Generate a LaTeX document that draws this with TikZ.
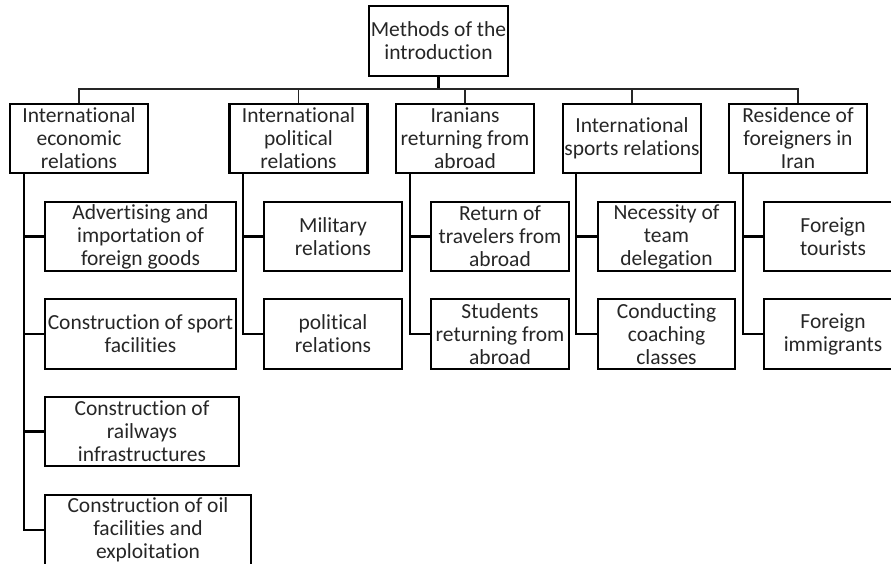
\documentclass[tikz,border=0pt]{standalone}
\usepackage{fontspec}
\setmainfont{Carlito}[Ligatures=NoCommon]
\begin{document}
\begin{tikzpicture}[x=1pt,y=-1pt,
  box/.style={draw=black,line width=2.5pt,inner sep=0pt,align=center,
    font=\fontsize{21.5}{23}\selectfont,text=black!85},
  lvl1/.style={box,minimum width=138pt,minimum height=69pt},
  lvl2/.style={box,minimum width=#1,minimum height=69pt},
  conn/.style={draw=black,line width=2.2pt},
  busline/.style={draw=black!85,line width=1.6pt}]
\useasboundingbox (0,0) rectangle (891,564);
% root
\node[box,minimum width=139pt,minimum height=70pt] (r) at (438.5,41) {Methods of the\\introduction};
% level 1
\node[lvl1] (a) at (79,138.5) {International\\economic\\relations};
\node[lvl1] (b) at (298.5,138.5) {International\\political\\relations};
\node[lvl1] (c) at (465,138.5) {Iranians\\returning from\\abroad};
\node[lvl1] (d) at (632,138.5) {International\\sports relations};
\node[lvl1] (e) at (798,138.5) {Residence of\\foreigners in\\Iran};
% level 2, column a
\node[lvl2=191pt] (a1) at (140.5,236.5) {Advertising and\\importation of\\foreign goods};
\node[lvl2=191pt,minimum height=70pt] (a2) at (140.5,334) {Construction of sport\\facilities};
\node[lvl2=194pt] (a3) at (142,431.5) {Construction of\\railways\\infrastructures};
\node[lvl2=206pt,minimum height=70pt] (a4) at (148,530) {Construction of oil\\facilities and\\exploitation};
% column b
\node[lvl2=138pt] (b1) at (333,236.5) {Military\\relations};
\node[lvl2=138pt,minimum height=70pt] (b2) at (333,334) {political\\relations};
% column c
\node[lvl2=138pt] (c1) at (500,236.5) {Return of\\travelers from\\abroad};
\node[lvl2=138pt,minimum height=70pt] (c2) at (500,334) {Students\\returning from\\abroad};
% column d
\node[lvl2=137pt] (d1) at (666.5,236.5) {Necessity of\\team\\delegation};
\node[lvl2=137pt,minimum height=70pt] (d2) at (666.5,334) {Conducting\\coaching\\classes};
% column e
\node[lvl2=138pt] (e1) at (833,236.5) {Foreign\\tourists};
\node[lvl2=138pt,minimum height=70pt] (e2) at (833,334) {Foreign\\immigrants};
% bus
\coordinate (bus) at (438.5,89);
\draw[draw=black,line width=3pt] (r.south) -- (bus);
\draw[busline] (a.north) |- (bus) -| (e.north);
\draw[busline] (b.north) -- (b.north |- bus);
\draw[busline] (c.north) -- (c.north |- bus);
\draw[busline] (d.north) -- (d.north |- bus);
% trunks
\coordinate (ta) at ([xshift=15pt]a.south west);
\coordinate (tb) at ([xshift=15pt]b.south west);
\coordinate (tc) at ([xshift=15pt]c.south west);
\coordinate (td) at ([xshift=14pt]d.south west);
\coordinate (te) at ([xshift=15pt]e.south west);
\draw[conn] (ta) |- (a4.west);
\draw[conn] (a1.west) -- (a1.west -| ta);
\draw[conn] (a2.west) -- (a2.west -| ta);
\draw[conn] (a3.west) -- (a3.west -| ta);
\draw[conn] (tb) |- (b2.west);
\draw[conn] (b1.west) -- (b1.west -| tb);
\draw[conn] (tc) |- (c2.west);
\draw[conn] (c1.west) -- (c1.west -| tc);
\draw[conn] (td) |- (d2.west);
\draw[conn] (d1.west) -- (d1.west -| td);
\draw[conn] (te) |- (e2.west);
\draw[conn] (e1.west) -- (e1.west -| te);
\end{tikzpicture}
\end{document}
